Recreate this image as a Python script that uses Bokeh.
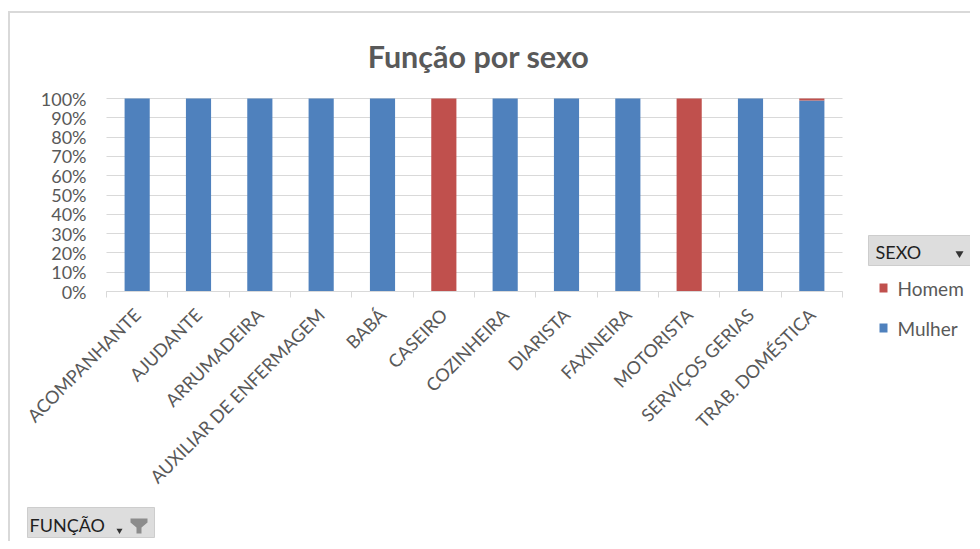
from bokeh.plotting import figure
from bokeh.models import ColumnDataSource, Range1d, FixedTicker, NumeralTickFormatter
from bokeh.core.properties import value
from bokeh.embed import file_html
from bokeh.resources import INLINE

# ---- data ----
categories = ["ACOMPANHANTE", "AJUDANTE", "ARRUMADEIRA", "AUXILIAR DE ENFERMAGEM", "BABÁ",
              "CASEIRO", "COZINHEIRA", "DIARISTA", "FAXINEIRA", "MOTORISTA",
              "SERVIÇOS GERIAS", "TRAB. DOMÉSTICA"]
mulher = [1.0, 1.0, 1.0, 1.0, 1.0, 0.0, 1.0, 1.0, 1.0, 0.0, 1.0, 0.99]
homem = [0.0, 0.0, 0.0, 0.0, 0.0, 1.0, 0.0, 0.0, 0.0, 1.0, 0.0, 0.01]
series_names = ["Homem", "Mulher"]
y_ticks = [0.0, 0.1, 0.2, 0.3, 0.4, 0.5, 0.6, 0.7, 0.8, 0.9, 1.0]
title_text = "Função por sexo"
legend_title = "SEXO"
axis_button = "FUNÇÃO"

# ---- style ----
BLUE = "#4F81BD"
RED = "#C0504D"
GRID = "#D9D9D9"
TEXT = "#595959"
DARK = "#1F1F1F"
BTN = "#DDDDDD"
BTN_EDGE = "#CDCDCD"
FONT = "Lato"

# ---- geometry (page pixels) ----
W, H = 962, 530
OX, OY = 10, 13                          # canvas origin on the page
PL, PR, PT, PB = 106, 842, 98, 291       # plot area on the page

n = len(categories)
ux = (PR - PL) / n                       # pixels per category
uy = (PB - PT) / 1.0                     # pixels per 100 %


def X(px):
    return -0.5 + (px - PL) / ux


def Y(py):
    return (PB - py) / uy


xs = list(range(n))
src = ColumnDataSource(dict(x=xs, mulher=mulher, homem=homem))

p = figure(width=W, height=H, output_backend="svg", toolbar_location=None,
           x_range=Range1d(X(OX), X(OX + W)), y_range=Range1d(Y(OY + H), Y(OY)),
           min_border=0, min_border_left=0, min_border_right=0,
           min_border_top=0, min_border_bottom=0)
p.styles = {"border-top": "2px solid #D9D9D9", "border-left": "2px solid #D9D9D9",
            "margin-top": "11px", "margin-left": "8px"}
p.outline_line_color = None

p.vbar_stack(["mulher", "homem"], x="x", width=0.41, source=src,
             fill_color=[BLUE, RED], line_color=None)

# y axis (drawn at the left edge of the plot area)
p.yaxis.fixed_location = -0.5
p.yaxis.bounds = (0, 1)
p.yaxis.ticker = FixedTicker(ticks=y_ticks)
p.yaxis.formatter = NumeralTickFormatter(format="0%")
p.yaxis.axis_line_color = None
p.yaxis.major_tick_line_color = None
p.yaxis.major_tick_out = 0
p.yaxis.major_tick_in = 0
p.yaxis.minor_tick_line_color = None
p.yaxis.major_label_text_font = FONT
p.yaxis.major_label_text_font_size = "18px"
p.yaxis.major_label_text_color = TEXT
p.yaxis.major_label_standoff = 20

# horizontal gridlines limited to the plot area
p.xgrid.grid_line_color = None
grid = p.ygrid[0]
if "cross_bounds" in grid.properties():
    grid.ticker = FixedTicker(ticks=y_ticks)
    grid.grid_line_color = GRID
    grid.cross_bounds = (-0.5, n - 0.5)
else:
    grid.grid_line_color = None
    p.segment(x0=[-0.5] * len(y_ticks), x1=[n - 0.5] * len(y_ticks), y0=y_ticks,
              y1=y_ticks, line_color=GRID, line_width=1, level="underlay")

# x axis (drawn at 0 %)
p.xaxis.fixed_location = 0
p.xaxis.bounds = (-0.5, n - 0.5)
p.xaxis.ticker = FixedTicker(ticks=xs, minor_ticks=[i - 0.5 for i in range(n + 1)])
p.xaxis.major_label_overrides = {i: c for i, c in zip(xs, categories)}
p.xaxis.major_label_orientation = 0.785398
p.xaxis.axis_line_color = GRID
p.xaxis.major_tick_line_color = None
p.xaxis.major_tick_out = 0
p.xaxis.major_tick_in = 0
p.xaxis.minor_tick_line_color = GRID
p.xaxis.minor_tick_in = 0
p.xaxis.minor_tick_out = 6
p.xaxis.major_label_text_font = FONT
p.xaxis.major_label_text_font_size = "18px"
p.xaxis.major_label_text_color = TEXT
p.xaxis.major_label_standoff = 14

# ---- title ----
p.text(x=[X(478)], y=[Y(55)], text=[title_text], text_align="center",
       text_baseline="middle", text_font=value(FONT), text_font_size="30.5px",
       text_font_style="bold", text_color=TEXT)

# ---- legend (field button + entries) ----
p.quad(left=[X(868)], right=[X(976)], top=[Y(235)], bottom=[Y(265)],
       fill_color=BTN, line_color=BTN_EDGE)
p.text(x=[X(875)], y=[Y(251)], text=[legend_title], text_baseline="middle",
       text_font=value(FONT), text_font_size="18px", text_color=DARK)
p.scatter(x=[X(959)], y=[Y(253)], marker="inverted_triangle", size=8,
          fill_color="#333333", line_color=None)

row_centers = [287.5, 327.5]
p.quad(left=[X(879)] * 2, right=[X(887)] * 2,
       top=[Y(c - 4.5) for c in row_centers], bottom=[Y(c + 4.5) for c in row_centers],
       fill_color=[RED, BLUE], line_color=None)
p.text(x=[X(897)] * 2, y=[Y(c) for c in row_centers], text=series_names,
       text_baseline="middle", text_font=value(FONT), text_font_size="19px",
       text_color=TEXT)

# ---- category field button ----
p.quad(left=[X(27)], right=[X(154)], top=[Y(507)], bottom=[Y(537)],
       fill_color=BTN, line_color=BTN_EDGE)
p.text(x=[X(29)], y=[Y(524)], text=[axis_button], text_baseline="middle",
       text_font=value(FONT), text_font_size="18px", text_color=DARK)
p.scatter(x=[X(119)], y=[Y(530)], marker="inverted_triangle", size=6,
          fill_color="#333333", line_color=None)
funnel_px = [130, 147, 147, 141, 141, 136, 136, 130]
funnel_py = [518, 518, 522, 527, 533, 533, 527, 522]
p.patch(x=[X(v) for v in funnel_px], y=[Y(v) for v in funnel_py],
        fill_color="#8C8C8C", line_color=None)

open("out.html", "w").write(file_html(p, INLINE))
